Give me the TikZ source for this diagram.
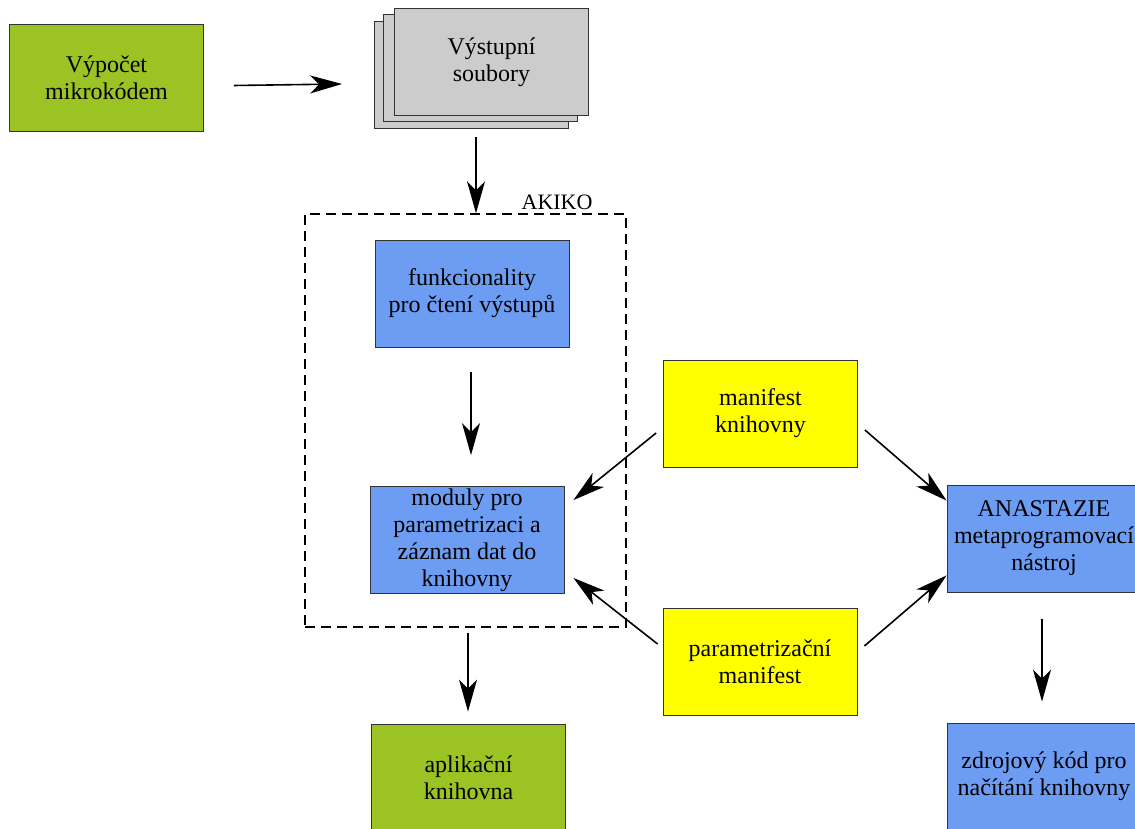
\documentclass[tikz,border=0pt]{standalone}
\usepackage{fontspec}
\setmainfont{Liberation Serif}
\usepackage{xcolor}
\usetikzlibrary{shapes, arrows.meta, positioning}

\definecolor{limegreen}{HTML}{9CC324}
\definecolor{skyblue}{HTML}{6D9CF3}
\definecolor{sheetgray}{HTML}{CCCCCC}
\definecolor{lemon}{HTML}{FFFF00}
\definecolor{boxline}{HTML}{333333}

\begin{document}
\begin{tikzpicture}[x=1pt, y=-1pt, font=\fontsize{24}{27}\selectfont]
\tikzstyle{block} = [rectangle, minimum width=194pt, minimum height=107pt, inner sep=0pt, align=center, draw=boxline, line width=0.8pt]
\tikzstyle{greenbox} = [block, fill=limegreen]
\tikzstyle{bluebox} = [block, fill=skyblue]
\tikzstyle{yellowbox} = [block, fill=lemon]
\tikzstyle{sheet} = [block, fill=sheetgray]
\tikzstyle{frame} = [rectangle, draw=black, line width=1.4pt, dash pattern=on 10pt off 6pt, minimum width=321pt, minimum height=413pt]
\tikzstyle{arrow} = [line width=1.6pt, -{Stealth[length=32pt, width=18pt, inset=9pt]}]

\useasboundingbox (0,0) rectangle (1135,829);

\node (vypocet) [greenbox] at (106.5,77.5) {Výpočet\\mikrokódem};
\node (sheet3) [sheet] at (471.5,75) {};
\node (sheet2) [sheet] at (480,68) {};
\node (sheet1) [sheet] at (491.5,62) {Výstupní\\soubory};

\node (akiko) [frame] at (465.5,420.5) {};
\node (akikolabel) [above left=3pt and 34pt of akiko.north east, inner sep=0pt, font=\fontsize{22}{26}\selectfont] {AKIKO};

\node (cteni) [bluebox] at (472,293.5) {funkcionality\\pro čtení výstupů};
\node (moduly) [bluebox] at (467,540) {moduly pro\\parametrizaci a\\záznam dat do\\knihovny};
\node (aplik) [greenbox] at (468.5,777.5) {aplikační\\knihovna};

\node (manlib) [yellowbox] at (760.5,413.5) {manifest\\knihovny};
\node (manpar) [yellowbox] at (760,661.5) {parametrizační\\manifest};

\node (anast) [bluebox] at (1044,538.5) {ANASTAZIE\\metaprogramovací\\nástroj};
\node (zdroj) [bluebox] at (1044,776.5) {zdrojový kód pro\\načítání knihovny};

\draw [arrow] ([shift={(30,8)}]vypocet.east) -- ([shift={(-32,9)}]sheet3.west);
\draw [arrow] ([shift={(4.5,8)}]sheet3.south) -- ([shift={(10.5,0)}]akiko.north);
\draw [arrow] ([shift={(-1,25)}]cteni.south) -- ([shift={(4,-31)}]moduly.north);
\draw [arrow] ([shift={(-7,19.5)}]manlib.west) -- ([shift={(9,14)}]moduly.north east);
\draw [arrow] ([shift={(-5,-17.5)}]manpar.west) -- ([shift={(9,-16)}]moduly.south east);
\draw [arrow] ([shift={(7,16.5)}]manlib.east) -- ([shift={(0,16)}]anast.north west);
\draw [arrow] ([shift={(7,-15.5)}]manpar.east) -- ([shift={(0,-17)}]anast.south west);
\draw [arrow] ([shift={(2.5,5)}]akiko.south) -- ([shift={(-0.5,-12)}]aplik.north);
\draw [arrow] ([shift={(-2,27)}]anast.south) -- ([shift={(-2,-21)}]zdroj.north);

\end{tikzpicture}
\end{document}
